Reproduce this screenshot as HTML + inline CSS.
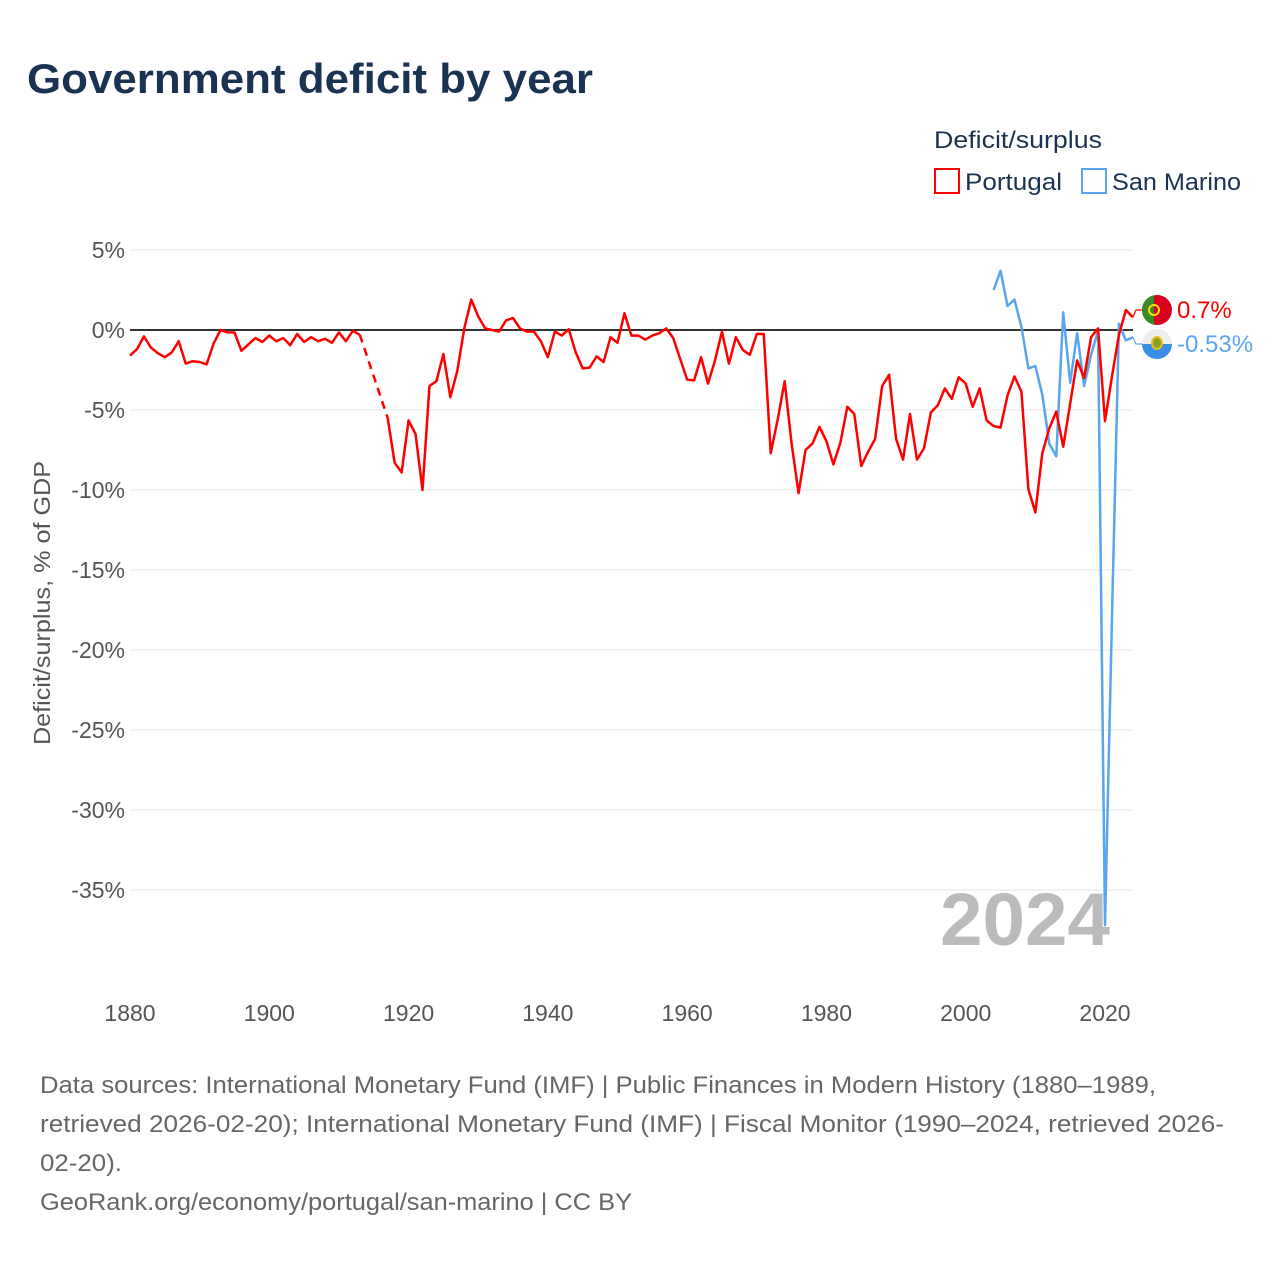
<!DOCTYPE html>
<html><head><meta charset="utf-8"><title>Government deficit by year</title>
<style>
html,body{margin:0;padding:0;background:#fff;}
svg{display:block;font-family:"Liberation Sans",sans-serif;}
</style></head>
<body>
<svg id="chart" width="1280" height="1280" viewBox="0 0 1280 1280" xmlns="http://www.w3.org/2000/svg">
<rect width="1280" height="1280" fill="#fff"/>
<text x="27" y="93" font-size="42" font-weight="bold" fill="#1b3353" textLength="566" lengthAdjust="spacingAndGlyphs">Government deficit by year</text>
<g>
<text x="934" y="148" font-size="24" fill="#1b3353" textLength="168" lengthAdjust="spacingAndGlyphs">Deficit/surplus</text>
<g>
<rect x="935" y="169" width="24" height="24" fill="none" stroke="#ff0000" stroke-width="2"/>
<text x="965" y="190" font-size="24" fill="#1b3353" textLength="97" lengthAdjust="spacingAndGlyphs">Portugal</text>
</g>
<g>
<rect x="1082" y="169" width="24" height="24" fill="none" stroke="#5aa5ef" stroke-width="2"/>
<text x="1112" y="190" font-size="24" fill="#1b3353" textLength="129" lengthAdjust="spacingAndGlyphs">San Marino</text>
</g>
</g>
<text transform="translate(50,603) rotate(-90)" text-anchor="middle" font-size="23" fill="#555" textLength="284" lengthAdjust="spacingAndGlyphs">Deficit/surplus, % of GDP</text>
<g id="grid"></g>
<g id="yticks"></g>
<g id="xticks"></g>
<text x="1110" y="945" text-anchor="end" font-size="74" font-weight="bold" fill="#bbbbbb" textLength="170" lengthAdjust="spacingAndGlyphs">2024</text>
<line id="zeroline" stroke="#333" stroke-width="2"/>
<g id="series"></g>
<g id="endlabels"></g>
<g font-size="24" fill="#666">
<text x="40" y="1093" textLength="1116" lengthAdjust="spacingAndGlyphs">Data sources: International Monetary Fund (IMF) | Public Finances in Modern History (1880–1989,</text>
<text x="40" y="1132" textLength="1184" lengthAdjust="spacingAndGlyphs">retrieved 2026-02-20); International Monetary Fund (IMF) | Fiscal Monitor (1990–2024, retrieved 2026-</text>
<text x="40" y="1171" textLength="82" lengthAdjust="spacingAndGlyphs">02-20).</text>
<text x="40" y="1210" textLength="592" lengthAdjust="spacingAndGlyphs">GeoRank.org/economy/portugal/san-marino | CC BY</text>
</g>
</svg>
<script>
const yTicks = [5, 0, -5, -10, -15, -20, -25, -30, -35];
const xTicks = [1880, 1900, 1920, 1940, 1960, 1980, 2000, 2020];
const ptStart = 1880;
const ptValues = [-1.6,-1.2,-0.4,-1.1,-1.45,-1.7,-1.4,-0.7,-2.1,-1.95,-2.0,-2.15,-0.85,0,-0.15,-0.15,-1.3,-0.9,-0.5,-0.75,-0.35,-0.7,-0.5,-0.95,-0.25,-0.75,-0.45,-0.7,-0.55,-0.8,-0.15,-0.7,-0.05,-0.3,
null,null,null,-5.5,-8.3,-8.9,-5.65,-6.5,-10.0,-3.5,-3.2,-1.5,-4.2,-2.55,
0.1,1.9,0.85,0.1,0,-0.1,0.6,0.75,0.1,-0.1,-0.1,-0.7,-1.7,-0.1,-0.35,0.05,-1.4,-2.4,-2.35,-1.65,-2.0,-0.45,-0.8,1.05,-0.35,-0.35,-0.6,-0.35,-0.2,0.1,-0.5,-1.8,-3.1,-3.15,-1.7,-3.35,-1.9,-0.1,-2.1,-0.45,-1.25,-1.55,-0.25,-0.25,-7.7,-5.6,-3.2,-7.1,
-10.2,-7.5,-7.1,-6.05,-6.95,-8.4,-7.05,-4.8,-5.25,-8.5,-7.6,-6.8,-3.5,-2.8,-6.8,-8.1,-5.25,-8.1,-7.4,-5.15,-4.7,-3.65,-4.3,-2.95,-3.35,-4.8,-3.65,-5.65,-6.0,-6.1,-4.1,-2.9,-3.85,-9.95,-11.4,-7.7,-6.15,-5.1,-7.3,-4.6,-1.9,-3.0,-0.45,0.1,-5.7,-2.9,-0.3,1.25,0.8];
const smStart = 2004;
const smValues = [2.5,3.7,1.5,1.9,0.2,-2.4,-2.25,-4.05,-7.1,-7.9,1.1,-3.3,-0.2,-3.5,-1.55,-0.05,-37.2,-18,0.4,-0.65,-0.45];
const latestLabels = ["0.7%", "-0.53%"];
const latestValues = [0.7, -0.53];

const NS = "http://www.w3.org/2000/svg";
const X0 = 130, X1 = 1133;
function xs(yr){ return 130 + (yr - 1880) * (975/140); }
function ys(v){ return 330 - v * 16; }
function mk(tag, attrs, parent){ const e = document.createElementNS(NS, tag); for (const k in attrs) e.setAttribute(k, attrs[k]); parent.appendChild(e); return e; }

const grid = document.getElementById('grid');
const yt = document.getElementById('yticks');
yTicks.forEach(v => {
  if (v !== 0) {
    const l = mk('line', {x1:X0, x2:X1, y1:ys(v), y2:ys(v), stroke:'#e6e6e6', 'stroke-width':1}, grid);
    
    
  }
  const t = mk('text', {x:125, y:ys(v)+8, 'text-anchor':'end', 'font-size':23, fill:'#555'}, yt);
  
  
  t.textContent = v + '%';
});
const xt = document.getElementById('xticks');
xTicks.forEach(yr => {
  const t = mk('text', {x:xs(yr), y:1021, 'text-anchor':'middle', 'font-size':23, fill:'#555'}, xt);
  
  
  t.textContent = yr;
});
const z = document.getElementById('zeroline');
z.setAttribute('x1', X0); z.setAttribute('x2', X1); z.setAttribute('y1', ys(0)); z.setAttribute('y2', ys(0));

const series = document.getElementById('series');
function drawSeries(start, vals, color, name){
  let seg = [], prev = null;
  const segs = [], gaps = [];
  vals.forEach((v, i) => {
    if (v === null) { if (seg.length) { segs.push(seg); prev = seg[seg.length-1]; } seg = []; return; }
    const p = [xs(start+i), ys(v)];
    if (!seg.length && prev) gaps.push([prev, p]);
    seg.push(p);
  });
  if (seg.length) segs.push(seg);
  segs.forEach(s => {
    const pl = mk('polyline', {points:s.map(p=>p.join(',')).join(' '), fill:'none', stroke:color, 'stroke-width':2.5, 'stroke-linejoin':'round'}, series);
    
    
  });
  gaps.forEach(g => {
    const l = mk('line', {x1:g[0][0], y1:g[0][1], x2:g[1][0], y2:g[1][1], stroke:color, 'stroke-width':2.5, 'stroke-dasharray':'8,6'}, series);
    
    
  });
}
drawSeries(smStart, smValues, '#5aa5ef', 'san-marino');
drawSeries(ptStart, ptValues, '#ff0000', 'portugal');

const el = document.getElementById('endlabels');
const colors = ['#ff0000', '#5aa5ef'];
const names = ['portugal', 'san-marino'];
const labelY = [310, 344];
latestValues.forEach((v, i) => {
  const lastX = xs(2024), lastY = ys(i===0 ? ptValues[ptValues.length-1] : smValues[smValues.length-1]);
  const c = mk('polyline', {points:`${lastX},${lastY} ${1136},${labelY[i]} ${1142},${labelY[i]}`, fill:'none', stroke:colors[i], 'stroke-width':1.2}, el);
  
  
  const g = mk('g', {}, el);
  
  
  const cx = 1157, cy = labelY[i];
  if (i === 0) {
    mk('circle', {cx, cy, r:15, fill:'#da0020'}, g);
    mk('path', {d:`M${cx-3},${cy-14.7} A15,15 0 0,0 ${cx-3},${cy+14.7} Z`, fill:'#3a8a2a'}, g);
    mk('circle', {cx:cx-3, cy, r:5, fill:'none', stroke:'#ffe000', 'stroke-width':2}, g);
  } else {
    mk('circle', {cx, cy, r:15, fill:'#eeeeee'}, g);
    mk('path', {d:`M${cx-15},${cy} A15,15 0 0,0 ${cx+15},${cy} Z`, fill:'#3a8ee8'}, g);
    mk('ellipse', {cx, cy:cy-1, rx:5, ry:6, fill:'#8aa020', stroke:'#e6c020', 'stroke-width':2}, g);
  }
  const t = mk('text', {x:1177, y:labelY[i]+8, 'font-size':24, fill:colors[i]}, el);
  
  
  t.textContent = latestLabels[i];
});
</script>
</body></html>
